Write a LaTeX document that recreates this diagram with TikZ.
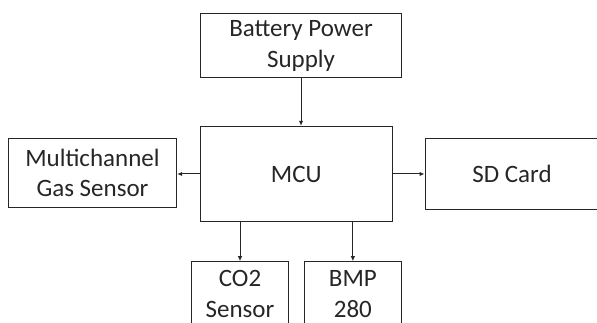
\documentclass[tikz,border=0pt]{standalone}
\usepackage{fontspec}
\setmainfont{Carlito}
\usetikzlibrary{arrows.meta}
\begin{document}
\begin{tikzpicture}[x=1pt,y=-1pt,
  box/.style={draw=black!85,line width=1pt,rectangle,inner sep=0pt,align=center,
    font=\fontsize{25}{30.5}\selectfont,text=black!85},
  conn/.style={draw=black!85,line width=1pt,-{Latex[length=5pt,width=4.5pt]}}]
\useasboundingbox (0,0) rectangle (597,323);
\clip (0,0) rectangle (597,323);
\node[box,minimum width=200.7pt,minimum height=64pt] (bat) at (301,45.8) {Battery Power\\Supply};
\node[box,minimum width=192.5pt,minimum height=95.4pt] (mcu) at (296.3,174) {MCU};
\node[box,minimum width=168.4pt,minimum height=69pt] (multi) at (92.5,172.8) {Multichannel\\Gas Sensor};
\node[box,minimum width=174pt,minimum height=71pt] (sd) at (512,174) {SD Card};
\node[box,minimum width=96.7pt,minimum height=64.6pt] (co2) at (240,294) {CO2\\Sensor};
\node[box,minimum width=97pt,minimum height=64.6pt] (bmp) at (352.9,294) {BMP\\280};
\draw[conn] (bat.south) -- (bat.south |- mcu.north);
\draw[conn] (mcu.west) -- (mcu.west -| multi.east);
\draw[conn] (mcu.east) -- (mcu.east -| sd.west);
\draw[conn] (co2.north |- mcu.south) -- (co2.north);
\draw[conn] (bmp.north |- mcu.south) -- (bmp.north);
\end{tikzpicture}
\end{document}
